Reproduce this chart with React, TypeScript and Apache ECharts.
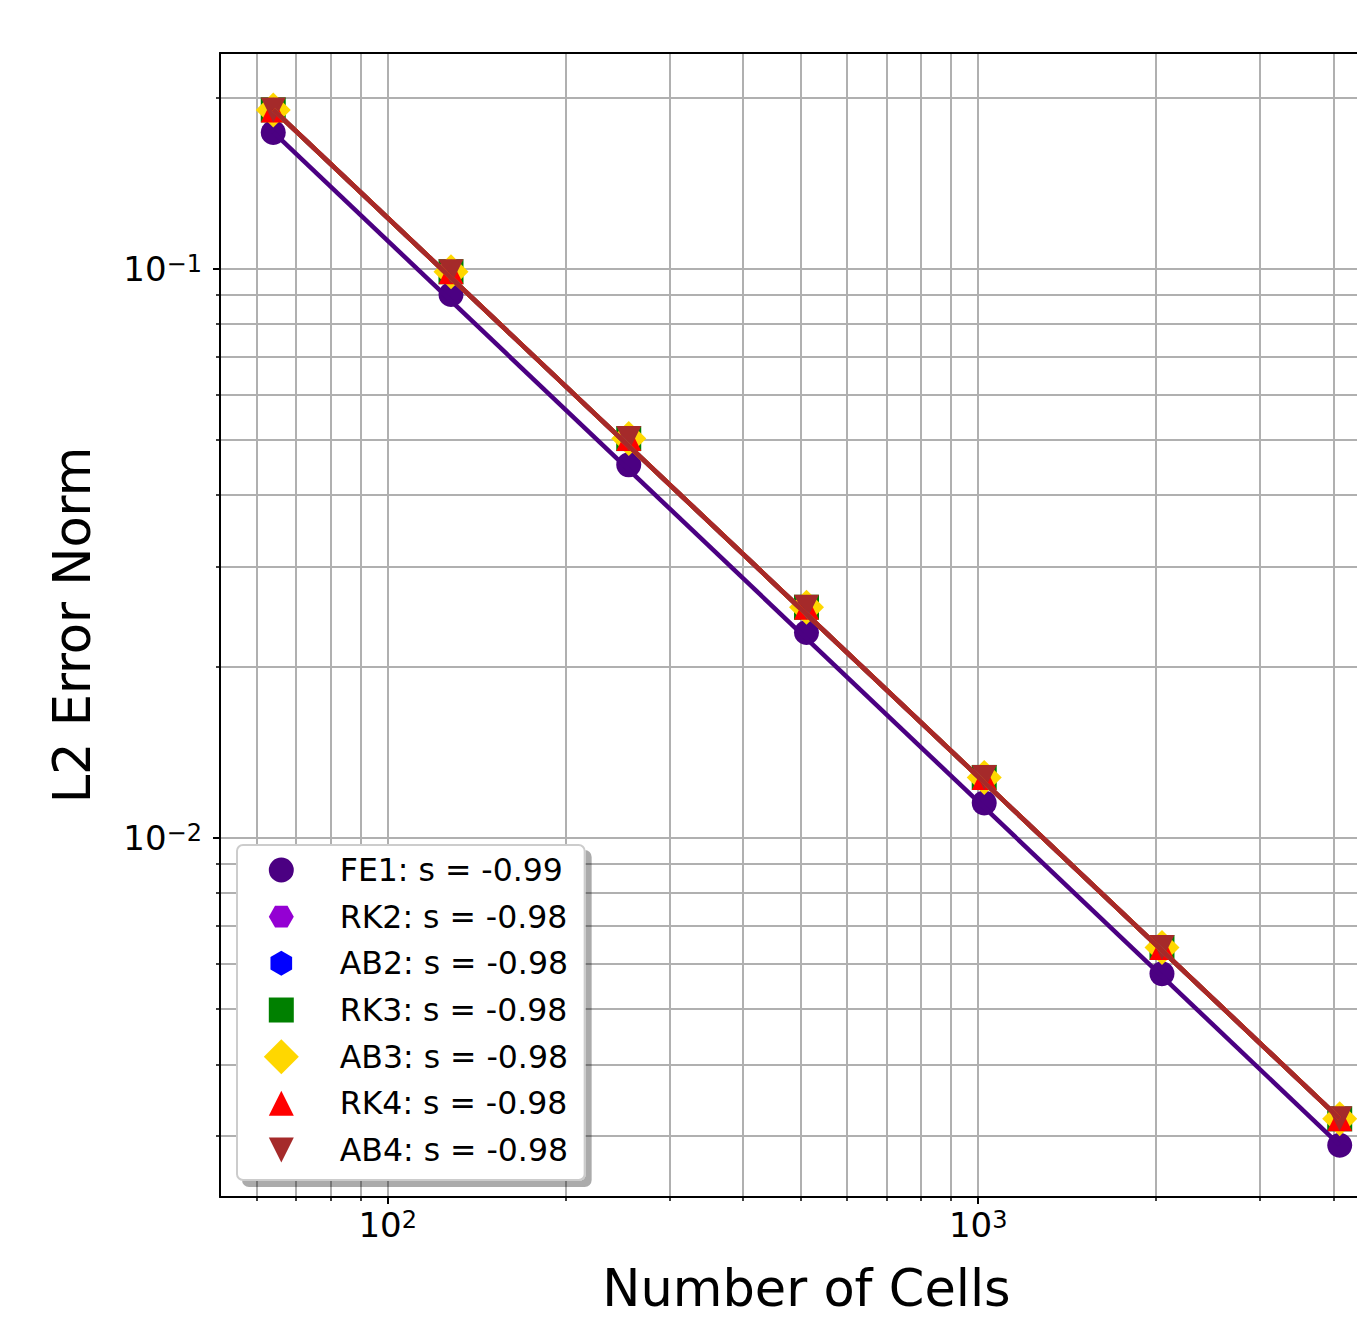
import React, { useEffect, useRef } from 'react';
import * as echarts from 'echarts';

// ---- data ----
const X_CELLS = [64, 128, 256, 512, 1024, 2048, 4096];
const FE1_ERR = [0.1735, 0.0901, 0.04522, 0.02295, 0.01152, 0.005771, 0.002884];
const RK2_ERR = [0.1901, 0.09879, 0.05029, 0.02542, 0.01277, 0.006418, 0.003209];
const AB2_ERR = [0.1901, 0.09879, 0.05029, 0.02542, 0.01277, 0.006418, 0.003209];
const RK3_ERR = [0.1901, 0.09879, 0.05029, 0.02542, 0.01277, 0.006418, 0.003209];
const AB3_ERR = [0.1901, 0.09879, 0.05029, 0.02542, 0.01277, 0.006418, 0.003209];
const RK4_ERR = [0.1901, 0.09879, 0.05029, 0.02542, 0.01277, 0.006418, 0.003209];
const AB4_ERR = [0.1901, 0.09879, 0.05029, 0.02542, 0.01277, 0.006418, 0.003209];

// fitted lines (end points)
const FIT_X = [64, 4096];
const FE1_FIT = [0.1738, 0.002886];
const RK2_FIT = [0.1903, 0.003212];
const AB2_FIT = [0.1903, 0.003212];
const RK3_FIT = [0.1903, 0.003212];
const AB3_FIT = [0.1903, 0.003212];
const RK4_FIT = [0.1903, 0.003212];
const AB4_FIT = [0.1903, 0.003212];

const LEGEND_NAMES = [
  'FE1: s = -0.99',
  'RK2: s = -0.98',
  'AB2: s = -0.98',
  'RK3: s = -0.98',
  'AB3: s = -0.98',
  'RK4: s = -0.98',
  'AB4: s = -0.98',
];

// axis ranges and ticks
const X_MIN = 52;
const X_MAX = 5042;
const Y_MIN = 0.002339;
const Y_MAX = 0.2393;
const X_MAJOR = [100, 1000];
const X_MINOR = [60, 70, 80, 90, 200, 300, 400, 500, 600, 700, 800, 900, 2000, 3000, 4000, 5000];
const Y_MAJOR = [0.01, 0.1];
const Y_MINOR = [
  0.003, 0.004, 0.005, 0.006, 0.007, 0.008, 0.009,
  0.02, 0.03, 0.04, 0.05, 0.06, 0.07, 0.08, 0.09, 0.2,
];

const FONT = 'DejaVu Sans';
const GRID_COLOR = '#b0b0b0';

const HEX_FLAT = 'path://M-1 0L-0.5 -0.866L0.5 -0.866L1 0L0.5 0.866L-0.5 0.866Z';
const HEX_POINTY = 'path://M0 -1L0.866 -0.5L0.866 0.5L0 1L-0.866 0.5L-0.866 -0.5Z';

// legend icons drawn in a 71x35 frame (marker centred at 17.5,17.5)
const F = 'path://M0 0M71 35';
const LEG_ICONS = [
  F + 'M5 17.5A12.5 12.5 0 1 1 30 17.5A12.5 12.5 0 1 1 5 17.5Z',
  F + 'M5 17.5L11.25 6.675L23.75 6.675L30 17.5L23.75 28.325L11.25 28.325Z',
  F + 'M17.5 5L28.325 11.25L28.325 23.75L17.5 30L6.675 23.75L6.675 11.25Z',
  F + 'M5 5L30 5L30 30L5 30Z',
  F + 'M17.5 0L35 17.5L17.5 35L0 17.5Z',
  F + 'M17.5 5L30 30L5 30Z',
  F + 'M5 5L30 5L17.5 30Z',
];

const SERIES = [
  { name: LEGEND_NAMES[0], vals: FE1_ERR, fit: FE1_FIT, color: '#4b0082', symbol: 'circle', size: 25, rot: 0 },
  { name: LEGEND_NAMES[1], vals: RK2_ERR, fit: RK2_FIT, color: '#9400d3', symbol: HEX_FLAT, size: [25, 21.65], rot: 0 },
  { name: LEGEND_NAMES[2], vals: AB2_ERR, fit: AB2_FIT, color: '#0000ff', symbol: HEX_POINTY, size: [21.65, 25], rot: 0 },
  { name: LEGEND_NAMES[3], vals: RK3_ERR, fit: RK3_FIT, color: '#008000', symbol: 'rect', size: 25, rot: 0 },
  { name: LEGEND_NAMES[4], vals: AB3_ERR, fit: AB3_FIT, color: '#ffd700', symbol: 'diamond', size: 35, rot: 0 },
  { name: LEGEND_NAMES[5], vals: RK4_ERR, fit: RK4_FIT, color: '#ff0000', symbol: 'triangle', size: 25, rot: 0 },
  { name: LEGEND_NAMES[6], vals: AB4_ERR, fit: AB4_FIT, color: '#a52a2a', symbol: 'triangle', size: 25, rot: 180 },
];

const powLabel = (v: number) => {
  const e = Math.round(Math.log10(v));
  return `{b|10}{s|${e < 0 ? '\u2212' : ''}${Math.abs(e)}}`;
};
const labelRich = {
  b: { fontSize: 34, lineHeight: 34, fontFamily: FONT, color: '#000', verticalAlign: 'bottom' },
  s: { fontSize: 24, lineHeight: 19, fontFamily: FONT, color: '#000', verticalAlign: 'top' },
};

export default function App() {
  const ref = useRef<HTMLDivElement>(null);

  useEffect(() => {
    if (!ref.current) return;
    const chart = echarts.init(ref.current, null, { renderer: 'svg' });

    const xCommon = { type: 'log', logBase: 10, min: X_MIN, max: X_MAX, gridIndex: 0 };
    const yCommon = { type: 'log', logBase: 10, min: Y_MIN, max: Y_MAX, gridIndex: 0 };
    const split = { show: true, lineStyle: { color: GRID_COLOR, width: 2 } };

    const option: any = {
      animation: false,
      backgroundColor: '#ffffff',
      textStyle: { fontFamily: FONT },
      grid: {
        left: 220,
        top: 53,
        width: 1173,
        height: 1144,
        containLabel: false,
        outerBoundsMode: 'none',
      },
      xAxis: [
        {
          ...xCommon,
          position: 'bottom',
          name: 'Number of Cells',
          nameLocation: 'middle',
          nameGap: 66,
          nameMoveOverlap: false,
          nameTextStyle: { fontSize: 51, color: '#000', fontFamily: FONT },
          axisLine: { show: true, onZero: false, lineStyle: { color: '#000', width: 2 } },
          axisTick: { show: true, inside: false, length: 7, lineStyle: { color: '#000', width: 2 }, customValues: X_MAJOR },
          axisLabel: { show: true, margin: 11, customValues: X_MAJOR, formatter: powLabel, rich: labelRich },
          splitLine: split,
          minorTick: { show: false },
          minorSplitLine: { show: false },
        },
        {
          ...xCommon,
          position: 'bottom',
          axisLine: { show: false },
          axisTick: { show: true, inside: false, length: 4, lineStyle: { color: '#000', width: 1.5 }, customValues: X_MINOR },
          axisLabel: { show: false, customValues: X_MINOR },
          splitLine: split,
        },
        {
          ...xCommon,
          position: 'top',
          axisLine: { show: true, onZero: false, lineStyle: { color: '#000', width: 2 } },
          axisTick: { show: false },
          axisLabel: { show: false },
          splitLine: { show: false },
        },
      ],
      yAxis: [
        {
          ...yCommon,
          position: 'left',
          name: 'L2 Error Norm',
          nameLocation: 'middle',
          nameGap: 122,
          nameMoveOverlap: false,
          nameTextStyle: { fontSize: 51, color: '#000', fontFamily: FONT },
          axisLine: { show: true, onZero: false, lineStyle: { color: '#000', width: 2 } },
          axisTick: { show: true, inside: false, length: 7, lineStyle: { color: '#000', width: 2 }, customValues: Y_MAJOR },
          axisLabel: { show: true, margin: 18, customValues: Y_MAJOR, formatter: powLabel, rich: labelRich },
          splitLine: split,
          minorTick: { show: false },
          minorSplitLine: { show: false },
        },
        {
          ...yCommon,
          position: 'left',
          axisLine: { show: false },
          axisTick: { show: true, inside: false, length: 4, lineStyle: { color: '#000', width: 1.5 }, customValues: Y_MINOR },
          axisLabel: { show: false, customValues: Y_MINOR },
          splitLine: split,
        },
      ],
      legend: {
        orient: 'vertical',
        left: 237,
        top: 845,
        padding: [7.5, 16.7, 12.5, 26.8],
        itemGap: 11.67,
        itemWidth: 71,
        itemHeight: 35,
        backgroundColor: '#ffffff',
        borderColor: '#cccccc',
        borderWidth: 2,
        borderRadius: 6,
        shadowBlur: 0,
        shadowColor: 'rgba(0,0,0,0.33)',
        shadowOffsetX: 6,
        shadowOffsetY: 6,
        selectedMode: false,
        textStyle: { fontSize: 31.5, color: '#000', fontFamily: FONT },
        data: SERIES.map((s, i) => ({ name: s.name, icon: LEG_ICONS[i], itemStyle: { color: s.color } })),
      },
      series: [
        ...SERIES.map((s) => ({
          type: 'scatter',
          name: s.name,
          xAxisIndex: 0,
          yAxisIndex: 0,
          symbol: s.symbol,
          symbolSize: s.size,
          symbolRotate: s.rot,
          itemStyle: { color: s.color, opacity: 1 },
          z: 2,
          silent: true,
          data: X_CELLS.map((x, i) => [x, s.vals[i]]),
        })),
        ...SERIES.map((s) => ({
          type: 'line',
          name: s.name + ' fit',
          xAxisIndex: 0,
          yAxisIndex: 0,
          showSymbol: false,
          symbol: 'none',
          lineStyle: { color: s.color, width: 4.5 },
          itemStyle: { color: s.color },
          z: 3,
          silent: true,
          data: FIT_X.map((x, i) => [x, s.fit[i]]),
        })),
      ],
    };

    chart.setOption(option);
    return () => chart.dispose();
  }, []);

  return (
    <div
      ref={ref}
      style={{ position: 'absolute', left: 0, top: 0, width: 1357, height: 1321, background: '#fff' }}
    />
  );
}
